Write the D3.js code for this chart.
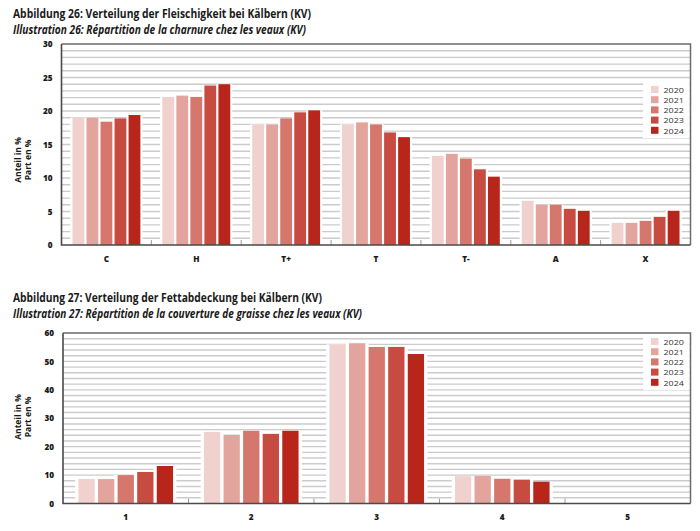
<!DOCTYPE html>
<html>
<head>
<meta charset="utf-8">
<script src="https://cdn.jsdelivr.net/npm/d3@7"></script>
<style>
  body { margin: 0; background: #fff; }
  svg text { font-family: "Open Sans", "Noto Sans", sans-serif; }
</style>
</head>
<body>
<svg id="chart" width="700" height="531"></svg>
<script>
/*
Data
*/

const years = ["2020", "2021", "2022", "2023", "2024"];
const yearColors = ["#f0d1cd", "#e3a49d", "#d5776d", "#c84b41", "#b7251b"];

// Abbildung 26 - Fleischigkeit
const fleischCategories = ["C", "H", "T+", "T", "T-", "A", "X"];
const fleisch2020 = [19.0, 22.1, 18.0, 18.0, 13.3, 6.6, 3.3];
const fleisch2021 = [19.0, 22.3, 18.0, 18.3, 13.6, 6.0, 3.3];
const fleisch2022 = [18.4, 22.1, 18.9, 18.0, 12.9, 6.0, 3.6];
const fleisch2023 = [18.9, 23.8, 19.8, 16.8, 11.3, 5.4, 4.2];
const fleisch2024 = [19.4, 24.0, 20.1, 16.1, 10.2, 5.1, 5.1];
const fleischTicks = [0, 5, 10, 15, 20, 25, 30];

// Abbildung 27 - Fettabdeckung
const fettCategories = ["1", "2", "3", "4", "5"];
const fett2020 = [8.6, 25.2, 56.0, 9.6, 0.1];
const fett2021 = [8.6, 24.1, 56.4, 9.7, 0.1];
const fett2022 = [10.0, 25.6, 55.1, 8.7, 0.1];
const fett2023 = [11.1, 24.5, 55.1, 8.4, 0.1];
const fett2024 = [13.2, 25.6, 52.6, 7.7, 0.1];
const fettTicks = [0, 10, 20, 30, 40, 50, 60];

const svg = d3.select("#chart");

/*
Chart drawing
*/

function drawChart(cfg) {
  const g = svg.append("g");

  // titles
  g.append("text")
    .attr("x", 13).attr("y", cfg.titleY)
    .attr("font-size", 11.5).attr("font-weight", 700).attr("fill", "#1a1a1a")
    .attr("textLength", cfg.titleW).attr("lengthAdjust", "spacingAndGlyphs")
    .text(cfg.title);
  g.append("text")
    .attr("x", 13).attr("y", cfg.titleY + 15.5)
    .attr("font-size", 11.5).attr("font-weight", 700).attr("font-style", "italic").attr("fill", "#1a1a1a")
    .attr("textLength", cfg.subW).attr("lengthAdjust", "spacingAndGlyphs")
    .text(cfg.subtitle);

  const x0 = d3.scaleBand()
    .domain(cfg.categories)
    .range([cfg.left, cfg.right])
    .paddingInner(0.22)
    .paddingOuter(0.11);

  const x1 = d3.scaleBand()
    .domain(years)
    .range([0, x0.bandwidth()]);

  const y = d3.scaleLinear()
    .domain([0, cfg.max])
    .range([cfg.bottom, cfg.top]);

  // gridlines
  g.append("g")
    .selectAll("line")
    .data(d3.range(cfg.gridStep, cfg.max, cfg.gridStep))
    .enter()
    .append("line")
    .attr("x1", cfg.left).attr("x2", cfg.right)
    .attr("y1", d => y(d)).attr("y2", d => y(d))
    .attr("stroke", "#cbcbcb")
    .attr("stroke-width", 1.4);

  // legend background
  g.append("rect")
    .attr("x", 643).attr("y", cfg.legendTop - 6)
    .attr("width", cfg.right - 643 - 1).attr("height", 58)
    .attr("fill", "#fff");

  // bars
  const groups = g.append("g")
    .selectAll("g")
    .data(cfg.categories.map((c, i) => ({ cat: c, values: cfg.series.map((s, j) => ({ year: years[j], value: s[i], color: yearColors[j] })) })))
    .enter()
    .append("g")
    .attr("transform", d => "translate(" + x0(d.cat) + ",0)");

  groups.selectAll("rect.bg")
    .data(d => d.values)
    .enter()
    .append("rect")
    .classed("bg", true)
    .attr("x", d => x1(d.year) - cfg.gap / 2)
    .attr("y", d => y(d.value))
    .attr("width", x1.bandwidth() + cfg.gap)
    .attr("height", d => cfg.bottom - y(d.value))
    .attr("fill", "#fff");

  groups.selectAll("rect.bar")
    .data(d => d.values)
    .enter()
    .append("rect")
    .classed("bar", true)
    .attr("x", d => x1(d.year) + cfg.gap / 2)
    .attr("y", d => y(d.value))
    .attr("width", x1.bandwidth() - cfg.gap)
    .attr("height", d => cfg.bottom - y(d.value))
    .attr("fill", d => d.color);

  // category separator ticks
  const step = x0.step();
  g.append("g")
    .selectAll("line")
    .data(cfg.categories.slice(1))
    .enter()
    .append("line")
    .attr("x1", d => x0(d) - step * 0.11).attr("x2", d => x0(d) - step * 0.11)
    .attr("y1", cfg.bottom).attr("y2", cfg.bottom - 5)
    .attr("stroke", "#9a9a9a").attr("stroke-width", 1);

  // frame
  g.append("path")
    .attr("d", "M" + cfg.left + "," + cfg.top + "H" + cfg.right + "V" + cfg.bottom)
    .attr("fill", "none").attr("stroke", "#6b6b6b").attr("stroke-width", 1.5);
  g.append("path")
    .attr("d", "M" + cfg.left + "," + cfg.top + "V" + cfg.bottom + "H" + cfg.right)
    .attr("fill", "none").attr("stroke", "#4a4a4a").attr("stroke-width", 1.6);

  // y axis labels
  const yAxis = g.append("g")
    .attr("transform", "translate(" + (cfg.left - 9) + ",0)")
    .call(d3.axisLeft(y).tickValues(cfg.ticks).tickSize(0).tickPadding(0));
  yAxis.select(".domain").remove();
  yAxis.selectAll("text")
    .attr("font-family", "'Open Sans', sans-serif")
    .attr("font-size", 8.2).attr("font-weight", 800).attr("fill", "#1a1a1a");

  // x axis labels
  const xAxis = g.append("g")
    .attr("transform", "translate(0," + cfg.bottom + ")")
    .call(d3.axisBottom(x0).tickSize(0).tickPadding(11));
  xAxis.select(".domain").remove();
  xAxis.selectAll("text")
    .attr("font-family", "'Open Sans', sans-serif")
    .attr("font-size", 8.2).attr("font-weight", 800).attr("fill", "#1a1a1a");

  // y axis title
  const yt = g.append("text")
    .attr("transform", "translate(0," + cfg.yTitleY + ") rotate(-90)")
    .attr("text-anchor", "middle")
    .attr("font-size", 8.5).attr("font-weight", 700).attr("fill", "#1a1a1a");
  yt.append("tspan").attr("x", 0).attr("y", 21).text("Anteil in %");
  yt.append("tspan").attr("x", 0).attr("y", 31).text("Part en %");

  // legend
  const legend = g.append("g")
    .selectAll("g")
    .data(years)
    .enter()
    .append("g")
    .attr("transform", (d, i) => "translate(651," + (cfg.legendTop + i * 10.2) + ")");
  legend.append("rect")
    .attr("width", 7.5).attr("height", 7)
    .attr("fill", (d, i) => yearColors[i]);
  legend.append("text")
    .attr("x", 12.5).attr("y", 6.8)
    .attr("font-size", 7.8).attr("fill", "#333")
    .attr("textLength", 20.5).attr("lengthAdjust", "spacingAndGlyphs")
    .text(d => d);

  return g;
}

drawChart({
  title: "Abbildung 26: Verteilung der Fleischigkeit bei Kälbern (KV)",
  subtitle: "Illustration 26: Répartition de la charnure chez les veaux (KV)",
  titleY: 18, titleW: 298, subW: 293,
  categories: fleischCategories,
  series: [fleisch2020, fleisch2021, fleisch2022, fleisch2023, fleisch2024],
  ticks: fleischTicks, max: 30, gridStep: 1,
  left: 61.5, right: 690.5, top: 44, bottom: 245,
  gap: 2.2, legendTop: 86, yTitleY: 160
});

drawChart({
  title: "Abbildung 27: Verteilung der Fettabdeckung bei Kälbern (KV)",
  subtitle: "Illustration 27: Répartition de la couverture de graisse chez les veaux (KV)",
  titleY: 302, titleW: 309, subW: 349,
  categories: fettCategories,
  series: [fett2020, fett2021, fett2022, fett2023, fett2024],
  ticks: fettTicks, max: 60, gridStep: 2,
  left: 63, right: 690.5, top: 333, bottom: 503.5,
  gap: 3.3, legendTop: 338, yTitleY: 417
});
</script>
</body>
</html>
